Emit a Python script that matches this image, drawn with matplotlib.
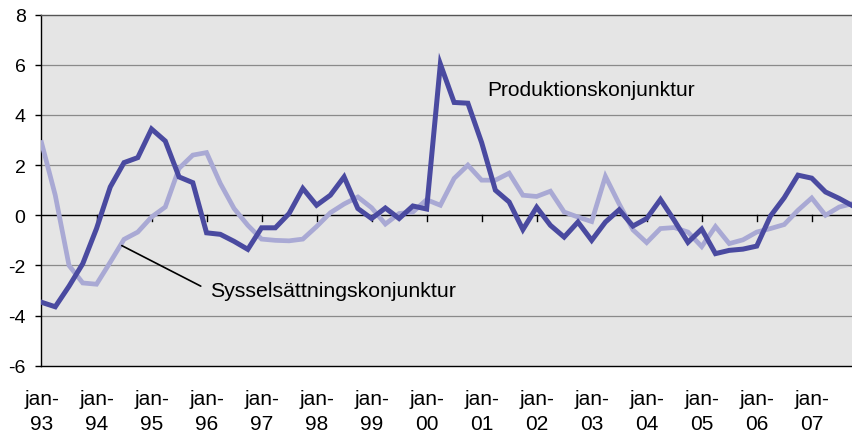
import matplotlib
matplotlib.use("Agg")
import matplotlib.pyplot as plt
import numpy as np

# Quarterly data, jan-93 .. okt-07
produktion = [-3.47, -3.65, -2.83, -1.93, -0.53, 1.13, 2.10, 2.30, 3.44, 2.96,
              1.53, 1.30, -0.70, -0.76, -1.04, -1.36, -0.50, -0.50, 0.07, 1.07,
              0.40, 0.80, 1.53, 0.27, -0.13, 0.29, -0.13, 0.37, 0.25, 6.03,
              4.50, 4.47, 2.90, 1.00, 0.53, -0.57, 0.32, -0.40, -0.87, -0.27,
              -1.00, -0.27, 0.22, -0.43, -0.13, 0.63, -0.20, -1.08, -0.55, -1.53,
              -1.40, -1.35, -1.23, -0.03, 0.70, 1.60, 1.48, 0.93, 0.67, 0.37]
syssels = [2.90, 0.80, -2.00, -2.70, -2.75, -1.87, -0.96, -0.67, -0.07, 0.33,
           1.87, 2.40, 2.50, 1.27, 0.27, -0.40, -0.95, -1.00, -1.02, -0.95,
           -0.45, 0.10, 0.45, 0.73, 0.30, -0.35, 0.07, 0.13, 0.62, 0.40,
           1.47, 2.00, 1.40, 1.40, 1.68, 0.80, 0.75, 0.96, 0.13, -0.07,
           -0.25, 1.55, 0.45, -0.58, -1.09, -0.53, -0.49, -0.67, -1.25, -0.45,
           -1.13, -0.98, -0.67, -0.53, -0.37, 0.20, 0.69, 0.00, 0.33, 0.47]
year_labels = ["jan-\n93", "jan-\n94", "jan-\n95", "jan-\n96", "jan-\n97",
               "jan-\n98", "jan-\n99", "jan-\n00", "jan-\n01", "jan-\n02",
               "jan-\n03", "jan-\n04", "jan-\n05", "jan-\n06", "jan-\n07"]
y_ticks = [-6, -4, -2, 0, 2, 4, 6, 8]

DARK = "#4A4AA0"
LIGHT = "#A9A9D4"
BG = "#E5E5E5"
FONT = ["Liberation Sans", "DejaVu Sans"]

fig = plt.figure(figsize=(8.53, 4.35), dpi=100)
ax = fig.add_axes([41.5 / 853, 68.3 / 435, (853 - 41.5) / 853, (366.7 - 15.7) / 435])
ax.set_facecolor(BG)

x = np.arange(len(produktion))
ax.plot(x, syssels, color=LIGHT, lw=3.4, solid_joinstyle="miter", zorder=3)
ax.plot(x, produktion, color=DARK, lw=3.6, solid_joinstyle="miter", zorder=4)

ax.set_xlim(0, len(produktion) - 1)
ax.set_ylim(-6, 8)

for v in y_ticks:
    if v not in (0, -6, 8):
        ax.axhline(v, color="#8A8A8A", lw=0.9, zorder=1)
ax.axhline(0, color="black", lw=1.0, zorder=2)

# year tick marks on the zero line
tick_pos = np.arange(0, len(produktion), 4)
for t in tick_pos[1:]:
    ax.plot([t, t], [0, -0.22], color="black", lw=1.0, zorder=2)

ax.set_xticks(tick_pos)
ax.set_xticklabels(year_labels, family=FONT, fontsize=15, linespacing=1.35)
ax.tick_params(axis="x", length=0, pad=17)
ax.set_yticks(y_ticks)
ax.set_yticklabels([str(v) for v in y_ticks], family=FONT, fontsize=14)
ax.tick_params(axis="y", length=4.5, width=1.0, pad=7, direction="out")

for s in ["left", "bottom"]:
    ax.spines[s].set_color("black")
    ax.spines[s].set_linewidth(1.0)
ax.spines["top"].set_color("#555555")
ax.spines["top"].set_linewidth(1.0)
ax.spines["right"].set_visible(False)

ax.text(32.4, 5.03, "Produktionskonjunktur", fontsize=15,
        family=FONT, ha="left", va="center", zorder=5)
ax.annotate("Sysselsättningskonjunktur", xy=(5.84, -1.21), xytext=(12.23, -3.01),
            fontsize=15.3, family=FONT, ha="left", va="center",
            arrowprops=dict(arrowstyle="-", color="black", lw=1.2, relpos=(0, 0.5),
                            shrinkA=5, shrinkB=0), zorder=5)

fig.savefig("out.png", dpi=100, facecolor="white")
